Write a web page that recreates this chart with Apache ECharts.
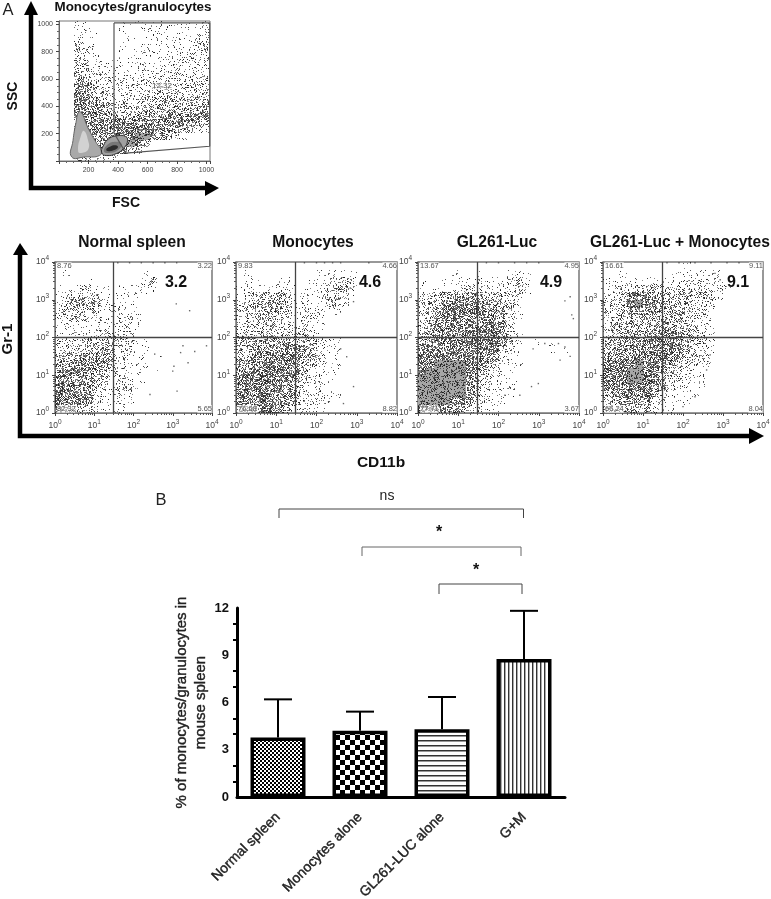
<!DOCTYPE html>
<html><head><meta charset="utf-8">
<style>html,body{margin:0;padding:0;background:#fff}#c{width:771px;height:899px;filter:blur(0.35px)}</style>
<script src="https://cdn.jsdelivr.net/npm/echarts@6/dist/echarts.min.js"></script>
</head><body><div id="c"></div>
<script>
// ---------- Panel B values ----------
const barCategories = ['Normal spleen','Monocytes alone','GL261-LUC alone','G+M'];
const barMeans = [3.78,4.2,4.3,8.76];
const barUpper = [6.2,5.42,6.35,11.82];

// ---------- Panel A: event density, 20x20 cells, top row = top of plot, digit = darkness ----------
const densityFscSsc = [
"00110000111111111112","00111000100111111112","00211000010111111122","00211000101111111122",
"00321100111111212222","00331101111111222222","00432111112112222223","00542211111222232223",
"00653221212222222233","00764222222222323333","00875322222333333334","00876433333333443445",
"00876544444445454456","00777665555555666666","00677777776766776665","00677888888877654422",
"00677678889976421000","00676688996410000000","00666688843000000000","00322212000000000000"];
const densityNormal = [
"00000000000000000000","01000000000100000000","00001000000130000000","11122110112110000000",
"12343311111100000000","23454411110000000000","23443211211000000000","22432211221000000000",
"12211111221000000000","11211222220000000000","22233343321100000000","33345554321100000000",
"44566665321101000000","55677664211100000000","67776543211001000000","77776432321100000000",
"78776322321000000000","88876322320000000000","88766211210000000000","66443111100000000000"];
const densityMono = [
"00000000000000000000","01000000001111100000","01100110011234200000","12111111112344200000",
"12345531112343100000","23456541211221000000","23455431321110000000","23444331321000000000",
"23344332311000000000","23344333321000000000","44555555442110000000","45667777551110000000",
"55778777552110000000","56788877431110000000","67888876421110000000","78888776322100000000",
"88877665222100000000","78887775222110000000","77788774222100000000","56677532211000000000"];
const densityGl = [
"00000000000000000000","00001001000111000000","10011112111331000000","11111222212341000000",
"22445666543221000000","34577777654310000000","34678887765310000000","34678776765210000000",
"45677777775200000000","56777788885210000000","66778888886310101000","67777788885210001010",
"77788887764110000000","88999988542110000000","89999985421100000000","99999984221110000000",
"99999974221100000000","99999964211100000000","99998653211000000000","88876532110000000000"];
const densityGM = [
"00000000001000000000","00100000111111100000","11111111112232100000","12224443333342210000",
"23478764444342100000","23489875544332000000","23467764554321000000","23455545553321000000",
"23444545654321000000","34455667775321000000","44556778885331000000","55677788874321000000",
"66778888653321000000","77889887543211000000","88899875432210000000","88899874332110000000",
"78888764321110000000","56788753211100000000","34566532111000000000","33454421100000000000"];

// isolated events [log10 CD11b, log10 Gr-1]
const eventsNormal = [[3,1.11],[3.39,1.33],[3.56,1.63],[3.86,1.78],[3.26,1.78],[3.43,2.71],[3.09,2.89],[3.11,.58],[2.42,.49],[3.2,1.6],[2.54,1.56],[3.03,1.24],[1.6,3.98],[1.9,3.98],[2.2,3.98],[2.5,3.98],[2.8,3.98],[3.1,3.98]];
const eventsMono = [[2.75,1.49],[2.67,.25],[2.92,.7],[2.84,3.31],[2.92,2.95],[2.3,.3],[2.6,1.7],[1.7,3.98],[2,3.98],[2.2,3.98],[2.4,3.98],[2.6,3.98],[3.3,3.98]];
const eventsGl = [[2.86,1.7],[3.15,1.84],[3.49,1.84],[3.65,1.75],[3.78,1.5],[3.53,1.4],[2.82,.7],[2.99,.78],[2.53,.47],[2.16,.47],[3.86,2.5],[3.82,2.6],[3.65,2.97],[3.78,3.08],[1.7,3.98],[2,3.98],[2.4,3.98],[2.7,3.98],[3,3.98]];
const eventsGM = [[2.68,1.54],[2.59,1.14],[2.3,.43],[2,.17],[2.93,3.53],[2.8,3.7],[1.6,3.98],[1.9,3.98],[2.3,3.98],[2.7,3.98],[3.1,3.98],[3.4,3.98]];

// gate and contour outlines of the FSC/SSC plot [FSC, SSC]
const gateOutline = [[373,1010],[373,205],[454,58],[1022,108],[1022,1010],[373,1010]];
const contourLeft = [[86,30],[95,150],[115,280],[135,360],[160,340],[185,270],[215,205],[255,130],[285,80],[275,40],[180,30]];
const contourLeftInner = [[130,70],[150,190],[170,220],[195,160],[200,90],[160,60]];
const contourOval = [[290,60],[300,110],[340,165],[400,185],[450,180],[465,150],[440,95],[390,55],[320,40]];
const contourOvalMid = [[305,70],[330,120],[385,140],[425,125],[405,85],[350,60]];
const contourOvalCore = [[320,85],[345,105],[385,115],[400,100],[375,80],[335,72]];

// texts
const flowTitles = ['Normal spleen','Monocytes','GL261-Luc','GL261-Luc + Monocytes'];
const flowBold = ['3.2','4.6','4.9','9.1'];
const flowCorners = [['8.76','3.22','82.32','5.65'],['9.83','4.66','76.68','8.82'],['13.67','4.95','77.71','3.67'],['16.61','9.11','66.24','8.04']];

// ---------- layout ----------
const FONT = "'Liberation Sans',Arial,sans-serif";
const flowBoxes = [[55,262,157,151],[236,262,161,151],[418,262,161,151],[603,262,160,151]];
const flowCenters = [132,313,497,680];
const boldPos = [[176,283],[370,283],[551,283],[738,283]];

// ---------- speckle textures (only a fill style, not data) ----------
const share = [0,.07,.15,.23,.31,.39,.47,.55,.63,.3];
function noise(x,y){let h=(Math.imul(x,374761393)+Math.imul(y,668265263))|0;h=Math.imul(h^(h>>>13),1274126177);return ((h^(h>>>16))>>>0)/4294967296;}
const speckle = share.map((p,level)=>{
  const cv=document.createElement('canvas');cv.width=cv.height=128;
  const g=cv.getContext('2d');
  if(level===9){g.fillStyle='#a6a6a6';g.fillRect(0,0,128,128);}
  for(let y=0;y<128;y++)for(let x=0;x<128;x++){
    if(noise(x,y)<p){
      g.fillStyle='rgba(15,15,15,'+(0.45+0.5*noise(y+7,x+3)).toFixed(2)+')';
      g.fillRect(x,y,1,1);
    }
  }
  return cv;
});
function tile(draw,w,h){const cv=document.createElement('canvas');cv.width=w;cv.height=h;const g=cv.getContext('2d');g.fillStyle='#fff';g.fillRect(0,0,w,h);g.fillStyle='#000';draw(g);return {image:cv,repeat:'repeat'};}
const barFills=[
  tile(g=>{g.fillRect(0,0,2,2);g.fillRect(2,2,2,2);},4,4),
  tile(g=>{g.fillRect(0,0,5,5);g.fillRect(5,5,5,5);},10,10),
  tile(g=>{g.fillStyle='#333';g.fillRect(0,0,5,1);g.fillStyle='#999';g.fillRect(0,1,5,1);},5,5),
  tile(g=>{g.fillStyle='#333';g.fillRect(0,0,1,4);g.fillStyle='#aaa';g.fillRect(1,0,1,4);},4,4)
];

// ---------- helpers ----------
function cellsLog(rows){const out=[];rows.forEach((r,ri)=>{[...r].forEach((ch,ci)=>{const L=+ch;if(L>0)out.push([Math.pow(10,ci/5),Math.pow(10,(ci+1)/5),Math.pow(10,(19-ri)/5),Math.pow(10,(20-ri)/5),L]);});});return out;}
function cellsLin(rows,top){const s=top/20,out=[];rows.forEach((r,ri)=>{[...r].forEach((ch,ci)=>{const L=+ch;if(L>0)out.push([ci*s,(ci+1)*s,(19-ri)*s,(20-ri)*s,L]);});});return out;}
function densitySeries(data,i){return {type:'custom',xAxisIndex:i,yAxisIndex:i,z:1,silent:true,data,encode:{x:[0,1],y:[2,3]},
  renderItem(p,api){const a=api.coord([api.value(0),api.value(2)]),b=api.coord([api.value(1),api.value(3)]);
    const x0=Math.round(a[0]),x1=Math.round(b[0]),y0=Math.round(b[1]),y1=Math.round(a[1]);
    return {type:'rect',shape:{x:x0,y:y0,width:x1-x0,height:y1-y0},style:{fill:{image:speckle[api.value(4)],repeat:'repeat'}}};}};}
function blob(points,fill,stroke,z){return {type:'custom',xAxisIndex:0,yAxisIndex:0,z,silent:true,data:points,encode:{x:0,y:1},
  renderItem(p,api){if(p.dataIndex!==0)return null;return {type:'polygon',shape:{points:points.map(q=>api.coord(q)),smooth:0.5},style:{fill,stroke,lineWidth:stroke?1:0}};}};}
const logPow=v=>Math.round(Math.log10(v));
function logX(i){return {type:'log',gridIndex:i,logBase:10,min:1,max:10000,axisLine:{show:true,onZero:false,lineStyle:{color:'#777',width:1}},
  axisTick:{show:true,length:3,lineStyle:{color:'#444'}},minorTick:{show:true,splitNumber:9,length:2,lineStyle:{color:'#555'}},splitLine:{show:false},minorSplitLine:{show:false},
  axisLabel:{show:true,margin:6,hideOverlap:false,showMaxLabel:true,showMinLabel:true,formatter:v=>'{b|10}{e|'+logPow(v)+'}',rich:{b:{fontSize:8.5,color:'#444',fontFamily:FONT},e:{fontSize:6.5,color:'#444',fontFamily:FONT,padding:[0,0,7,0]}}}};}
function linAxis(i){return {type:'value',gridIndex:i,min:0,max:1024,interval:200,
  axisLine:{show:true,onZero:false,lineStyle:{color:'#666'}},axisTick:{length:3,lineStyle:{color:'#444'}},minorTick:{show:true,splitNumber:4,length:2,lineStyle:{color:'#666'}},splitLine:{show:false},
  axisLabel:{fontSize:7,color:'#444',fontFamily:FONT,margin:6,showMaxLabel:false,formatter:v=>(v===0||v>1000)?'':String(v)}};}

// ---------- grids & axes ----------
const grids=[{left:59,top:21,width:151,height:140,outerBoundsMode:'none',show:true,borderColor:'#777',borderWidth:1,backgroundColor:'#fff'}];
const xAxes=[linAxis(0)];
const yAxes=[linAxis(0)];
flowBoxes.forEach((b,k)=>{const i=k+1;
  grids.push({left:b[0],top:b[1],width:b[2],height:b[3],outerBoundsMode:'none',show:true,borderColor:'#777',borderWidth:1.5,backgroundColor:'#fff'});
  xAxes.push(logX(i));yAxes.push(logX(i));
});
grids.push({left:237,top:608,width:328,height:189,outerBoundsMode:'none'});
xAxes.push({type:'category',gridIndex:5,data:barCategories,axisLine:{lineStyle:{color:'#000',width:3}},axisTick:{alignWithLabel:true,length:6,lineStyle:{color:'#000',width:2.5}},
  axisLabel:{rotate:45,interval:0,margin:18,fontFamily:FONT,fontSize:14,color:'#222',textBorderColor:'#222',textBorderWidth:0.4}});
yAxes.push({type:'value',gridIndex:5,min:0,max:12,interval:3,name:'% of monocytes/granulocytes in\nmouse spleen',nameLocation:'middle',nameGap:26,nameRotate:90,
  nameTextStyle:{fontFamily:FONT,fontSize:15,color:'#222',lineHeight:19,textBorderColor:'#222',textBorderWidth:0.4},
  axisLine:{show:true,lineStyle:{color:'#000',width:3}},axisTick:{length:6,lineStyle:{color:'#000',width:2.5}},minorTick:{show:true,splitNumber:3,length:4,lineStyle:{color:'#000',width:2}},splitLine:{show:false},
  axisLabel:{fontFamily:FONT,fontWeight:'bold',fontSize:13,color:'#111',margin:8}});

// ---------- series ----------
const series=[
  densitySeries(cellsLin(densityFscSsc,1024),0),
  blob(contourLeft,'#a9a9a9','#666',2),blob(contourLeftInner,'#d2d2d2',null,3),
  blob(contourOval,'#a0a0a0','#333',2),blob(contourOvalMid,'#777',null,3),blob(contourOvalCore,'#2c2c2c',null,4),
  {type:'line',xAxisIndex:0,yAxisIndex:0,z:5,data:gateOutline,showSymbol:false,silent:true,lineStyle:{color:'#555',width:1.2}}
];
[[densityNormal,eventsNormal],[densityMono,eventsMono],[densityGl,eventsGl],[densityGM,eventsGM]].forEach((d,k)=>{
  const i=k+1;
  series.push(densitySeries(cellsLog(d[0]),i));
  series.push({type:'scatter',xAxisIndex:i,yAxisIndex:i,z:3,symbol:'rect',symbolSize:1.4,silent:true,itemStyle:{color:'#444'},
    data:d[1].map(p=>[Math.pow(10,p[0]),Math.pow(10,p[1])]),
    markLine:{silent:true,symbol:'none',animation:false,label:{show:false},lineStyle:{color:'#444',width:1.3,type:'solid'},data:[{xAxis:30},{yAxis:100}]}});
});
series.push({type:'bar',xAxisIndex:5,yAxisIndex:5,barWidth:55,z:3,silent:true,
  data:barMeans.map((v,i)=>({value:v,itemStyle:{color:barFills[i],borderColor:'#000',borderWidth:3.5}}))});
series.push({type:'custom',xAxisIndex:5,yAxisIndex:5,z:2,silent:true,data:barCategories.map((c,i)=>[i,barMeans[i],barUpper[i]]),encode:{x:0,y:[1,2]},
  renderItem(p,api){const a=api.coord([api.value(0),api.value(1)]),b=api.coord([api.value(0),api.value(2)]);
    const st={stroke:'#000',lineWidth:2};
    return {type:'group',children:[
      {type:'line',shape:{x1:a[0],y1:a[1],x2:b[0],y2:b[1]},style:st},
      {type:'line',shape:{x1:b[0]-14,y1:b[1],x2:b[0]+14,y2:b[1]},style:st}]};}});

// ---------- annotations ----------
function txt(text,x,y,o){return {type:'text',z:20,silent:true,x,y,rotation:(o&&o.rot)||0,style:Object.assign({text,fontFamily:FONT,fontSize:14,fill:'#111',align:'center',verticalAlign:'middle'},o&&o.s)};}
function arrow(pts,head){return [{type:'polyline',z:20,silent:true,shape:{points:pts},style:{stroke:'#000',lineWidth:4.5,fill:null}},{type:'polygon',z:20,silent:true,shape:{points:head},style:{fill:'#000'}}];}
function bracket(x0,x1,y,yd,c){return {type:'polyline',z:20,silent:true,shape:{points:[[x0,yd],[x0,y],[x1,y],[x1,yd]]},style:{stroke:c||'#444',lineWidth:1,fill:null}};}
const graphics=[
  txt('A',8,10,{s:{fontSize:16.5,fill:'#222'}}),
  txt('Monocytes/granulocytes',133,7,{s:{fontSize:13.4,fontWeight:'bold'}}),
  txt('12.32',162,86,{s:{fontSize:8,fill:'#555',backgroundColor:'rgba(255,255,255,0.55)'}}),
  txt('FSC',126,203,{s:{fontSize:14,fontWeight:'bold'}}),
  txt('SSC',13,96,{rot:Math.PI/2,s:{fontSize:14,fontWeight:'bold'}}),
  ...arrow([[31,14],[31,188],[206,188]],[[24,15],[38,15],[31,1]]),
  ...arrow([[206,188],[206,188]],[[205,181],[205,196],[219,188]]),
  ...arrow([[20,254],[20,436],[752,436]],[[13,255],[28,255],[20,243]]),
  ...arrow([[750,436],[751,436]],[[749,428],[749,444],[764,436]]),
  txt('Gr-1',8,339,{rot:Math.PI/2,s:{fontSize:15,fontWeight:'bold'}}),
  txt('CD11b',381,463,{s:{fontSize:15.5,fontWeight:'bold'}}),
  txt('B',161,500,{s:{fontSize:16.5,fill:'#222'}}),
  bracket(279,523.5,509,518),bracket(362,521,547,556,'#666'),bracket(439,522,584,594),
  txt('ns',387,496,{s:{fontSize:14,fill:'#222'}}),
  txt('*',439,533,{s:{fontSize:16,fontWeight:'bold'}}),
  txt('*',476,571,{s:{fontSize:16,fontWeight:'bold'}})
];
flowTitles.forEach((t,k)=>{
  graphics.push(txt(t,flowCenters[k],243,{s:{fontSize:15.6,fontWeight:'bold'}}));
  graphics.push(txt(flowBold[k],boldPos[k][0],boldPos[k][1],{s:{fontSize:16,fontWeight:'bold'}}));
  const b=flowBoxes[k],c=flowCorners[k],sm={fontSize:7.5,fill:'#555',backgroundColor:'rgba(255,255,255,0.6)'};
  graphics.push(txt(c[0],b[0]+2,b[1]+4,{s:Object.assign({align:'left'},sm)}));
  graphics.push(txt(c[1],b[0]+b[2],b[1]+4,{s:Object.assign({align:'right'},sm)}));
  graphics.push(txt(c[2],b[0]+2,b[1]+b[3]-4,{s:Object.assign({align:'left'},sm)}));
  graphics.push(txt(c[3],b[0]+b[2],b[1]+b[3]-4,{s:Object.assign({align:'right'},sm)}));
});

const chart=echarts.init(document.getElementById('c'),null,{renderer:'canvas',width:771,height:899});
chart.setOption({animation:false,backgroundColor:'#fff',grid:grids,xAxis:xAxes,yAxis:yAxes,series,graphic:graphics});
</script></body></html>
